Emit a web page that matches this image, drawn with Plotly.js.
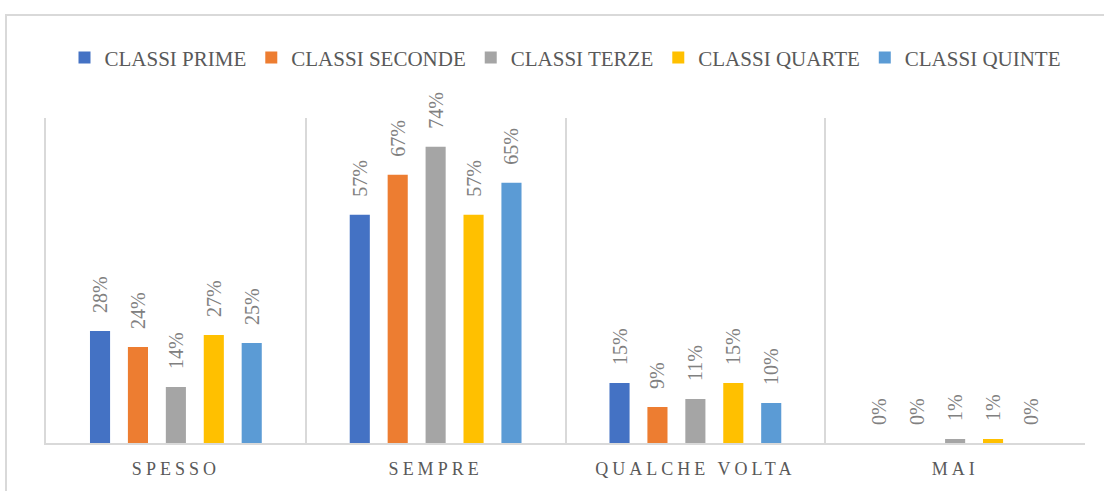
<!DOCTYPE html>
<html>
<head>
<meta charset="utf-8">
<script src="https://cdn.plot.ly/plotly-3.0.1.min.js"></script>
<style>
  html, body { margin: 0; padding: 0; background: #ffffff; }
  #wrap { position: relative; width: 1104px; height: 491px; overflow: hidden; }
  #chart { position: absolute; left: 0; top: 0; width: 1104px; height: 491px; }
  #frame { position: absolute; left: 5px; top: 14px; width: 1110px; height: 490px;
           border: 2px solid #d9d9d9; pointer-events: none; box-sizing: border-box; }
  .xtick text { letter-spacing: 4px; }
</style>
</head>
<body>
<div id="wrap">
  <div id="chart"></div>
  <div id="frame"></div>
</div>
<script>
// Data
const categories = ["SPESSO", "SEMPRE", "QUALCHE VOLTA", "MAI"];
const seriesNames = ["CLASSI PRIME", "CLASSI SECONDE", "CLASSI TERZE", "CLASSI QUARTE", "CLASSI QUINTE"];
const classiPrime   = [0.28, 0.57, 0.15, 0.00];
const classiSeconde = [0.24, 0.67, 0.09, 0.00];
const classiTerze   = [0.14, 0.74, 0.11, 0.01];
const classiQuarte  = [0.27, 0.57, 0.15, 0.01];
const classiQuinte  = [0.25, 0.65, 0.10, 0.00];

const seriesValues = [classiPrime, classiSeconde, classiTerze, classiQuarte, classiQuinte];
const colors = ["#4472C4", "#ED7D31", "#A5A5A5", "#FFC000", "#5B9BD5"];
const serif = "'Liberation Serif', 'DejaVu Serif', serif";
const pad = "\u00A0\u00A0\u00A0";

const traces = seriesValues.map((vals, i) => ({
  type: "bar",
  name: seriesNames[i],
  x: categories,
  y: vals,
  marker: { color: colors[i] },
  texttemplate: pad + "%{y:.0%}",
  textposition: "outside",
  textangle: -90,
  cliponaxis: false,
  constraintext: "none",
  textfont: { family: serif, size: 20, color: "#808080" },
  hoverinfo: "skip"
}));

const layout = {
  width: 1104,
  height: 491,
  margin: { l: 46, r: 19, t: 118, b: 48 },
  paper_bgcolor: "#ffffff",
  plot_bgcolor: "#ffffff",
  barmode: "group",
  bargap: 0.27,
  bargroupgap: 0.47,
  showlegend: true,
  legend: {
    orientation: "h",
    x: 0.5, xanchor: "center",
    y: 1.185, yanchor: "middle",
    font: { family: serif, size: 21, color: "#595959" },
    itemwidth: 30,
    traceorder: "normal"
  },
  xaxis: {
    type: "category",
    tickson: "boundaries",
    showgrid: true,
    gridcolor: "#d9d9d9",
    gridwidth: 2,
    showline: true,
    linecolor: "#d9d9d9",
    linewidth: 2,
    ticks: "",
    ticklabelstandoff: 8,
    tickfont: { family: serif, size: 18, color: "#595959" },
    zeroline: false,
    fixedrange: true
  },
  yaxis: {
    range: [0, 0.812],
    showticklabels: false,
    ticks: "",
    showgrid: false,
    zeroline: false,
    showline: true,
    linecolor: "#d9d9d9",
    linewidth: 2,
    fixedrange: true
  }
};

Plotly.newPlot("chart", traces, layout, { displayModeBar: false, staticPlot: true });
</script>
</body>
</html>
